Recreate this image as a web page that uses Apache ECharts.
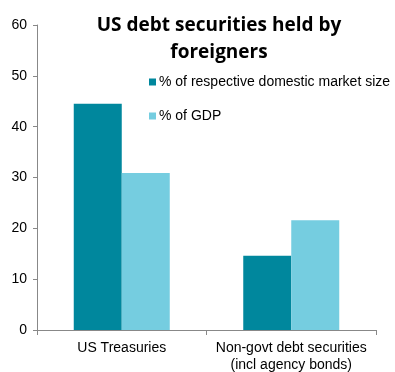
<!DOCTYPE html>
<html>
<head>
<meta charset="utf-8">
<script src="https://cdn.jsdelivr.net/npm/echarts@6/dist/echarts.min.js"></script>
<style>
  html, body { margin: 0; padding: 0; background: #fff; }
  #main { width: 395px; height: 372px; }
</style>
</head>
<body>
<div id="main"></div>
<script>
var categories = ['US Treasuries', 'Non-govt debt securities\n(incl agency bonds)'];
var marketSize = [44.5, 14.6];
var gdpShare = [30.9, 21.6];
var seriesNames = ['% of respective domestic market size', '% of GDP'];

var chart = echarts.init(document.getElementById('main'));

var option = {
  animation: false,
  title: {
    text: 'US debt securities held by\nforeigners',
    left: 214,
    top: 7,
    textAlign: 'center',
    textStyle: {
      fontFamily: 'Open Sans',
      fontWeight: 'bold',
      fontSize: 19,
      lineHeight: 27,
      color: '#000'
    }
  },
  legend: {
    orient: 'vertical',
    left: 144,
    top: 70,
    itemWidth: 7,
    itemHeight: 7,
    itemGap: 20,
    icon: 'rect',
    textStyle: {
      fontFamily: 'Liberation Sans',
      fontSize: 14,
      color: '#000',
      padding: [0, 0, 0, -2]
    },
    data: seriesNames
  },
  grid: {
    left: 37,
    right: 19,
    top: 25,
    bottom: 42,
    outerBoundsMode: 'none'
  },
  xAxis: {
    type: 'category',
    data: categories,
    axisLine: { lineStyle: { color: '#888' } },
    axisTick: { show: true, length: 5, lineStyle: { color: '#888' } },
    axisLabel: {
      interval: 0,
      fontFamily: 'Liberation Sans',
      fontSize: 14,
      color: '#000',
      margin: 10,
      lineHeight: 17
    }
  },
  yAxis: {
    type: 'value',
    min: 0,
    max: 60,
    interval: 10,
    axisLine: { show: true, lineStyle: { color: '#888' } },
    axisTick: { show: true, length: 4, lineStyle: { color: '#888' } },
    splitLine: { show: false },
    axisLabel: {
      fontFamily: 'Liberation Sans',
      fontSize: 14,
      color: '#000',
      margin: 10
    }
  },
  series: [
    {
      name: seriesNames[0],
      type: 'bar',
      data: marketSize,
      barWidth: 48,
      barGap: '0%',
      itemStyle: { color: '#00879D' }
    },
    {
      name: seriesNames[1],
      type: 'bar',
      data: gdpShare,
      barWidth: 48,
      itemStyle: { color: '#75CDE0' }
    }
  ]
};

chart.setOption(option);
</script>
</body>
</html>
